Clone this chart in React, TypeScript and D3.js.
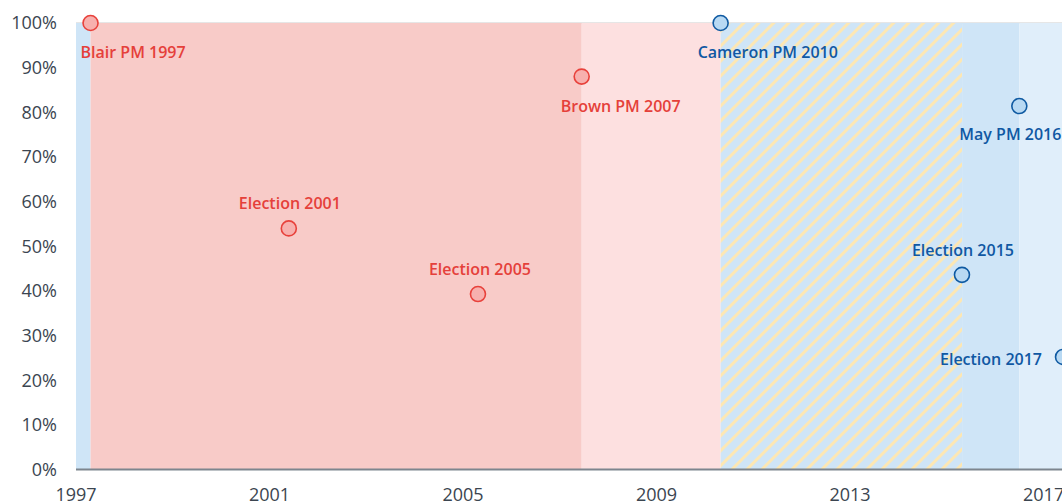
import React from "react";
import * as d3 from "d3";

// ---- data ----
const periodStart = ["1997-01-01", "1997-05-02", "2007-06-27", "2010-05-11", "2015-05-08", "2016-07-13"];
const periodEnd = ["1997-05-02", "2007-06-27", "2010-05-11", "2015-05-08", "2016-07-13", "2019-07-24"];
const periodKind = ["con", "blair", "brown", "coalition", "con", "may"];

const eventNames = ["Blair PM 1997", "Election 2001", "Election 2005", "Brown PM 2007", "Cameron PM 2010", "Election 2015", "May PM 2016", "Election 2017"];
const eventDates = ["1997-05-02", "2001-06-07", "2005-05-05", "2007-06-27", "2010-05-11", "2015-05-07", "2016-07-13", "2017-06-08"];
const eventValues = [100, 54, 39.3, 88, 100, 43.6, 81.4, 25.2];
const eventParty = ["lab", "lab", "lab", "lab", "con", "con", "con", "con"];

const yTicks = [0, 10, 20, 30, 40, 50, 60, 70, 80, 90, 100];
const xTickYears = [1997, 2001, 2005, 2009, 2013, 2017];

// ---- layout / styles ----
const W = 1062, H = 504;
const labelLayout = [
  { anchor: "start", dx: -10, dy: 35 },
  { anchor: "middle", dx: 1, dy: -19 },
  { anchor: "middle", dx: 2, dy: -19 },
  { anchor: "start", dx: -21, dy: 35 },
  { anchor: "start", dx: -23, dy: 35 },
  { anchor: "middle", dx: 1, dy: -18.5 },
  { anchor: "start", dx: -60, dy: 34 },
  { anchor: "end", dx: -21, dy: 8 },
];
const kindFill: Record<string, string> = {
  con: "#cfe5f7",
  blair: "#f8cbc8",
  brown: "#fde0e0",
  coalition: "url(#hatch)",
  may: "#e0eefa",
};
const partyStyle: Record<string, { stroke: string; fill: string; text: string }> = {
  lab: { stroke: "#e8413b", fill: "#f7b0ae", text: "#e5403a" },
  con: { stroke: "#0f5aa2", fill: "#b8d9f3", text: "#1058a3" },
};

const parse = d3.timeParse("%Y-%m-%d");

export default function App() {
  const x0px = 74.5;
  const x = d3
    .scaleTime()
    .domain([new Date(1997, 0, 1), new Date(2021, 0, 1)])
    .range([x0px, x0px + 24 * 48.38]);
  const y = d3.scaleLinear().domain([0, 100]).range([469.5, 23]);

  const font = "'Open Sans', 'Noto Sans', sans-serif";

  return (
    <svg
      width={W}
      height={H}
      style={{ position: "absolute", left: 0, top: 0, display: "block" }}
      fontFamily={font}
    >
      <defs>
        <pattern id="hatch" width={10.6} height={10.6} patternUnits="userSpaceOnUse" patternTransform="rotate(45)">
          <rect width={10.6} height={10.6} fill="#cfe5f7" />
          <line x1={1.5} y1={0} x2={1.5} y2={10.6} stroke="#fde7b3" strokeWidth={3} />
        </pattern>
      </defs>
      {/* top gridline */}
      <line x1={76} x2={W} y1={y(100)} y2={y(100)} stroke="#e6e6e6" strokeWidth={2} />
      {/* periods */}
      {periodStart.map((s, i) => {
        const xa = Math.max(76, x(parse(s)!));
        const xb = x(parse(periodEnd[i])!);
        return (
          <rect
            key={i}
            x={xa}
            y={y(100)}
            width={xb - xa}
            height={y(0) - y(100)}
            fill={kindFill[periodKind[i]]}
          />
        );
      })}
      {/* axis line */}
      <line x1={76} x2={W} y1={y(0)} y2={y(0)} stroke="#7d858e" strokeWidth={2} />
      {/* y ticks */}
      {yTicks.map((t) => (
        <text
          key={t}
          x={57}
          y={y(t)}
          dy="0.35em"
          textAnchor="end"
          fontSize={18}
          fill="#3b4550"
        >
          {t}%
        </text>
      ))}
      {/* x ticks */}
      {xTickYears.map((yr) => (
        <text key={yr} x={x(new Date(yr, 0, 1)) + 1.5} y={501} textAnchor="middle" fontSize={18} fill="#3b4550">
          {yr}
        </text>
      ))}
      {/* events */}
      {eventNames.map((name, i) => {
        const cx = x(parse(eventDates[i])!);
        const cy = y(eventValues[i]);
        const st = partyStyle[eventParty[i]];
        const l = labelLayout[i];
        return (
          <g key={name}>
            <circle cx={cx} cy={cy} r={7.5} fill={st.fill} stroke={st.stroke} strokeWidth={1.6} />
            <text
              x={cx + l.dx}
              y={cy + l.dy}
              textAnchor={l.anchor as any}
              fontSize={16}
              fontWeight={600}
              fill={st.text}
            >
              {name}
            </text>
          </g>
        );
      })}
    </svg>
  );
}
